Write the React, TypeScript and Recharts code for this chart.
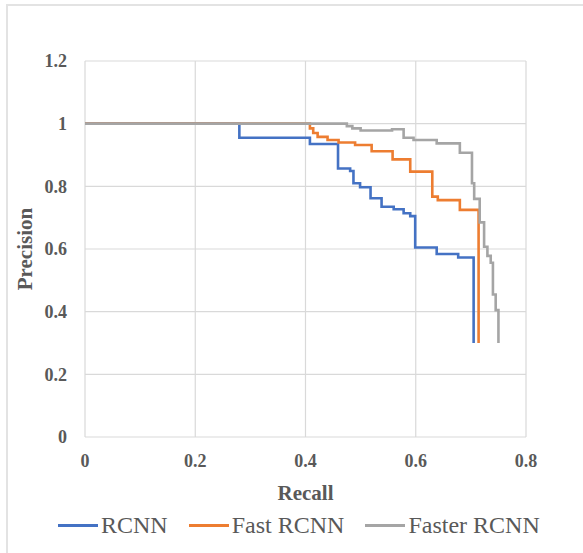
import React from 'react';
import { LineChart, Line, XAxis, YAxis, CartesianGrid } from 'recharts';

const seriesNames = ['RCNN', 'Fast RCNN', 'Faster RCNN'];
const seriesColors = ['#4472C4', '#ED7D31', '#A5A5A5'];

const xTicks = [0, 0.2, 0.4, 0.6, 0.8];
const yTicks = [0, 0.2, 0.4, 0.6, 0.8, 1, 1.2];

const rcnnRecall = [0, 0.28, 0.408, 0.459, 0.481, 0.487, 0.499, 0.518, 0.538, 0.56, 0.578, 0.59, 0.599, 0.638, 0.677, 0.705];
const rcnnPrecision = [1, 0.955, 0.935, 0.857, 0.849, 0.81, 0.797, 0.762, 0.735, 0.727, 0.714, 0.705, 0.605, 0.584, 0.573, 0.3];

const fastRecall = [0, 0.408, 0.414, 0.422, 0.44, 0.46, 0.49, 0.52, 0.558, 0.59, 0.63, 0.64, 0.68, 0.714];
const fastPrecision = [1, 0.985, 0.97, 0.958, 0.948, 0.94, 0.932, 0.912, 0.886, 0.847, 0.767, 0.756, 0.725, 0.3];

const fasterRecall = [0, 0.475, 0.485, 0.5, 0.557, 0.578, 0.596, 0.638, 0.68, 0.702, 0.706, 0.716, 0.724, 0.73, 0.736, 0.74, 0.745, 0.75];
const fasterPrecision = [1, 0.992, 0.985, 0.978, 0.982, 0.955, 0.948, 0.937, 0.907, 0.81, 0.76, 0.685, 0.607, 0.578, 0.556, 0.455, 0.405, 0.3];

const toPoints = (r: number[], p: number[]) => r.map((x, i) => ({ recall: x, precision: p[i] }));

const seriesData = [
  toPoints(rcnnRecall, rcnnPrecision),
  toPoints(fastRecall, fastPrecision),
  toPoints(fasterRecall, fasterPrecision),
];

const FONT = '"Liberation Serif", "Times New Roman", serif';
const TEXT = '#595959';

const LegendBox = () => (
  <div style={{ position: 'absolute', left: 0, top: 510, width: 583, height: 30, display: 'flex', alignItems: 'center', paddingLeft: 58, boxSizing: 'border-box', fontFamily: FONT, fontSize: 24, color: TEXT, lineHeight: '30px' }}>
    {seriesNames.map((n, i) => (
      <div key={n} style={{ display: 'flex', alignItems: 'center', marginRight: 21 }}>
        <div style={{ width: 40, height: 3, background: seriesColors[i], marginRight: 3 }} />
        <span>{n}</span>
      </div>
    ))}
  </div>
);

const YTitle = (props: any) => {
  const vb = props.viewBox || {};
  const cx = 25;
  const cy = vb.y + vb.height / 2;
  return (
    <text x={cx} y={cy} transform={`rotate(-90, ${cx}, ${cy})`} textAnchor="middle" dominantBaseline="central"
      fontFamily={FONT} fontWeight="bold" fontSize={21} fill={TEXT}>Precision</text>
  );
};

const XTitle = (props: any) => {
  const vb = props.viewBox || {};
  const cx = vb.x + vb.width / 2;
  return (
    <text x={cx} y={493} textAnchor="middle" dominantBaseline="central"
      fontFamily={FONT} fontWeight="bold" fontSize={21} fill={TEXT}>Recall</text>
  );
};

export default function App() {
  const tickStyle = { fontFamily: FONT, fontWeight: 'bold' as const, fontSize: 18, fill: TEXT };
  return (
    <div style={{ position: 'absolute', left: 0, top: 0, width: 583, height: 553, background: '#fff' }}>
      <div style={{ position: 'absolute', left: 6, top: 4, right: 0, bottom: 0, borderTop: '2px solid #E3E3E3', borderLeft: '2px solid #E3E3E3' }} />
      <div style={{ position: 'absolute', left: 0, top: 0 }}>
        <LineChart width={583} height={553} margin={{ top: 61, right: 57, left: 0, bottom: 76 }}>
          <CartesianGrid stroke="#D9D9D9" strokeWidth={1.2} />
          <XAxis type="number" dataKey="recall" domain={[0, 0.8]} ticks={xTicks} allowDataOverflow
            axisLine={false} tickLine={false} tickSize={6} tickMargin={11} tick={tickStyle}
            tickFormatter={(v: number) => String(v)} label={<XTitle />} height={40} />
          <YAxis type="number" domain={[0, 1.2]} ticks={yTicks} width={85}
            axisLine={false} tickLine={false} tickSize={6} tickMargin={12} tick={tickStyle}
            tickFormatter={(v: number) => String(v)} label={<YTitle />} />
          {seriesData.map((d, i) => (
            <Line key={seriesNames[i]} data={d} dataKey="precision" name={seriesNames[i]} type="stepAfter"
              stroke={seriesColors[i]} strokeWidth={2.6} dot={false} isAnimationActive={false} />
          ))}
        </LineChart>
      </div>
      <LegendBox />
    </div>
  );
}
